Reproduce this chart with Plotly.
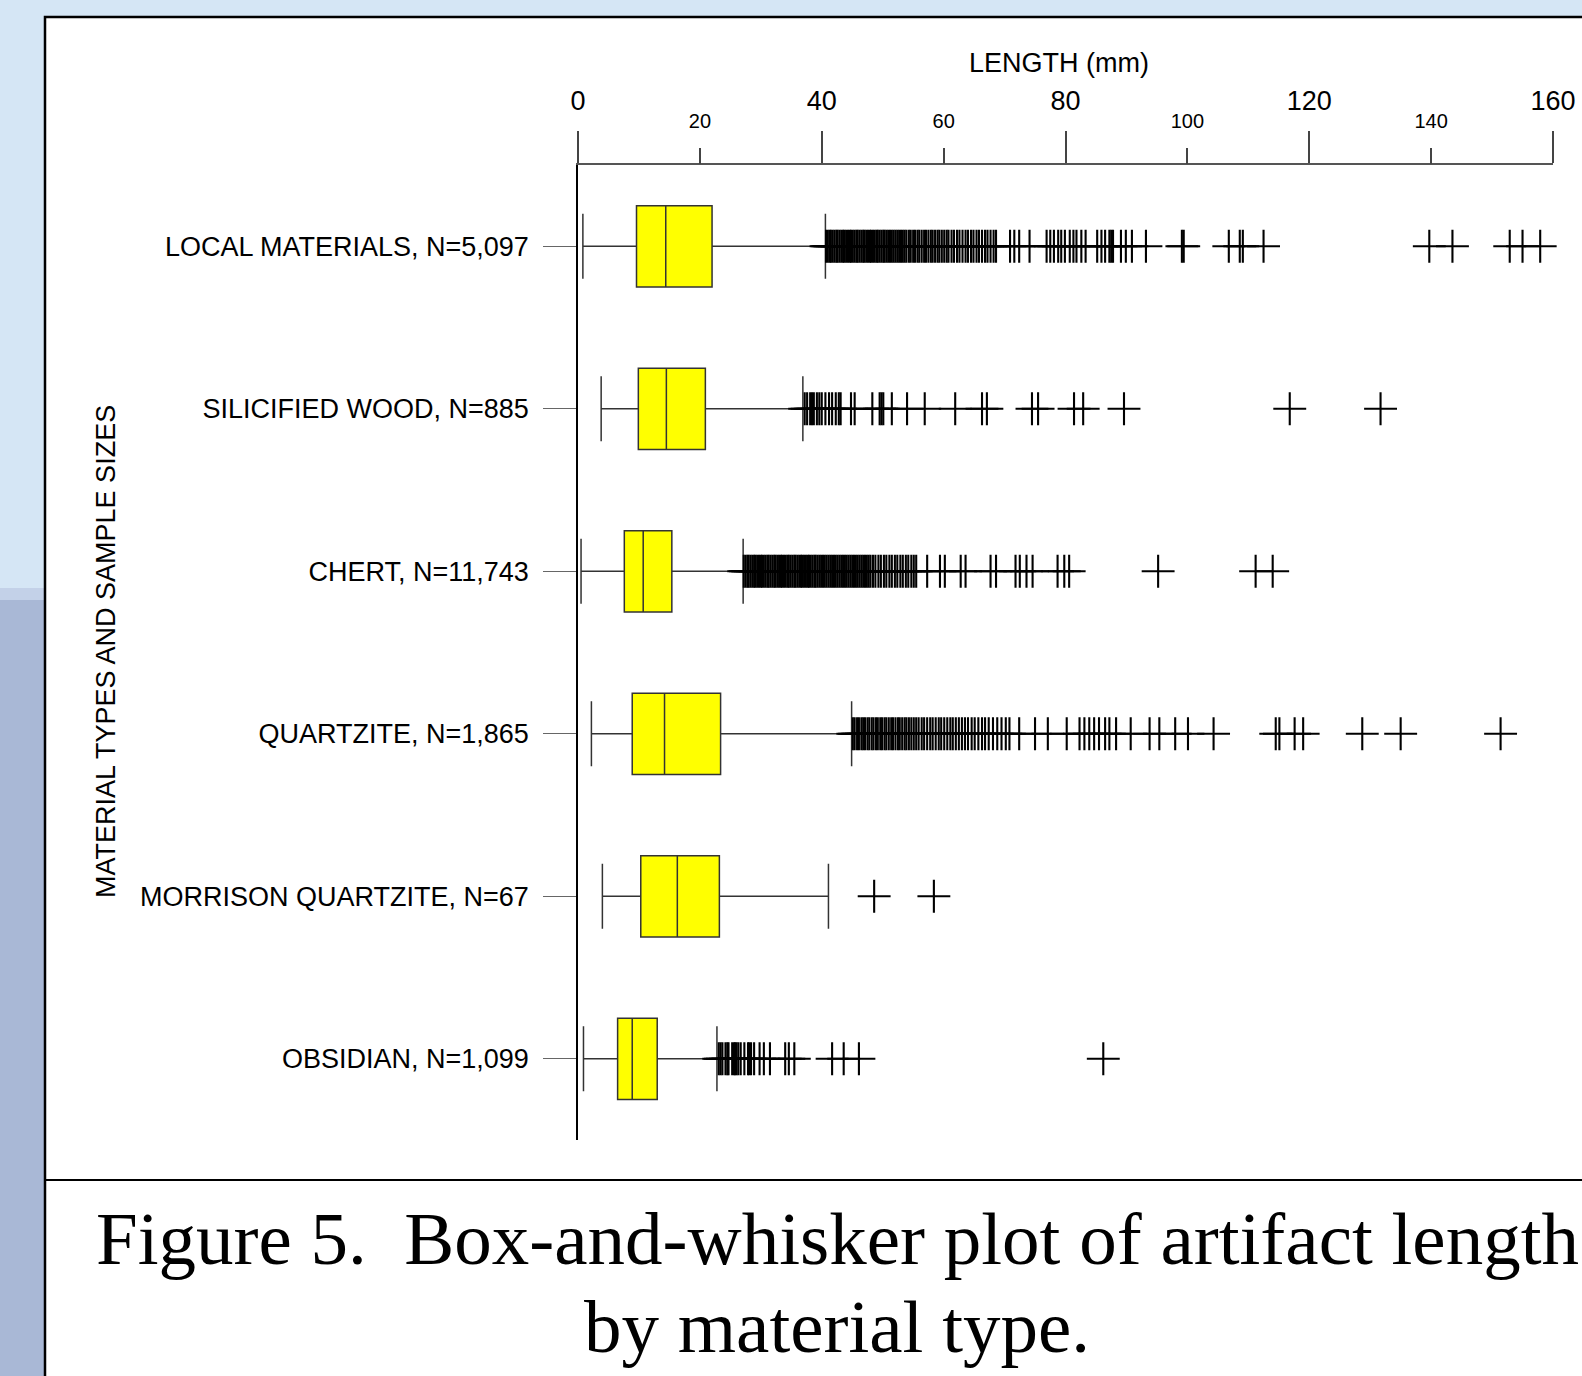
import plotly.graph_objects as go

# ---------------- data ----------------
categories = [
    "LOCAL MATERIALS, N=5,097",
    "SILICIFIED WOOD, N=885",
    "CHERT, N=11,743",
    "QUARTZITE, N=1,865",
    "MORRISON QUARTZITE, N=67",
    "OBSIDIAN, N=1,099",
]
whisker_low = [0.8, 3.8, 0.5, 2.2, 4.0, 0.9]
q1 = [9.6, 9.9, 7.6, 8.9, 10.3, 6.5]
median = [14.4, 14.5, 10.7, 14.2, 16.3, 8.9]
q3 = [22.0, 20.9, 15.4, 23.4, 23.2, 13.0]
whisker_high = [40.6, 36.9, 27.1, 44.9, 41.1, 22.8]

outliers_local = [
    40.7, 41.0, 41.3, 41.5, 41.8, 42.1, 42.4, 42.6, 42.9, 43.2, 43.5, 43.7, 44.0,
    44.3, 44.6, 44.8, 45.1, 45.4, 45.7, 45.9, 46.2, 46.5, 46.8, 47.0, 47.3, 47.6,
    47.9, 48.1, 48.4, 48.7, 49.0, 49.2, 49.5, 49.8, 50.1, 50.3, 50.6, 50.9, 51.2,
    51.5, 51.8, 52.1, 52.4, 52.7, 53.0, 53.3, 53.6,
    53.9, 54.3, 54.6, 55.0, 55.3, 55.7, 56.0, 56.4, 56.8, 57.1, 57.5, 57.9, 58.2,
    58.6, 59.0, 59.3, 59.7, 60.1, 60.5, 60.8,
    61.3, 61.7, 62.2, 62.6, 63.1, 63.6, 64.0, 64.5, 64.9, 65.4, 65.8, 66.3, 66.8,
    67.2, 67.7, 68.2, 68.6,
    70.9, 71.6, 72.4, 74.1,
    76.9, 77.5, 78.1, 78.8, 79.3, 79.9, 80.7, 81.3, 81.8, 82.6, 83.3,
    85.2, 85.9, 86.5, 87.2, 87.5, 87.8, 89.1, 89.9, 90.9, 93.2,
    99.1, 99.4, 106.8, 108.6, 109.1, 112.5,
    139.7, 143.5, 152.9, 155.0, 157.9,
]
outliers_silicified = [
    37.2, 37.6, 38.1, 38.4, 38.7, 39.2, 39.6, 40.0, 40.6, 41.2, 41.7, 42.3, 42.8,
    43.1, 44.8, 45.4, 48.3, 49.5, 49.8, 50.1, 51.5, 54.0, 56.9, 61.9, 66.3, 67.1,
    74.5, 75.5, 81.4, 82.9, 89.6, 116.8, 131.7,
]
outliers_chert = [
    27.2, 27.5, 27.8, 28.0, 28.3, 28.6, 28.9, 29.1, 29.4, 29.7, 30.0, 30.2, 30.5,
    30.8, 31.1, 31.3, 31.6, 31.9, 32.2, 32.4, 32.7, 33.0, 33.3, 33.5, 33.8, 34.1,
    34.4, 34.6, 34.9, 35.2, 35.5, 35.7, 36.0, 36.3, 36.6, 36.8, 37.1, 37.4, 37.7,
    37.9, 38.2, 38.5, 38.8, 39.0, 39.3, 39.6,
    39.9, 40.2, 40.5, 40.8, 41.1, 41.4, 41.7, 42.0, 42.3, 42.6, 42.9, 43.2, 43.5,
    43.8, 44.1, 44.4, 44.7, 45.0, 45.3, 45.6, 45.9, 46.2, 46.5, 46.8, 47.1, 47.4,
    47.7, 48.0,
    48.4, 48.8, 49.3, 49.7, 50.2, 50.6, 51.1, 51.5, 52.0, 52.4, 52.9, 53.3, 53.8,
    54.2, 54.7, 55.1, 55.5,
    57.3, 59.4, 60.2, 62.8, 63.6, 67.7, 68.6, 71.8, 72.5, 73.6, 74.6, 78.7, 79.8,
    80.6, 95.2, 111.2, 114.0,
]
outliers_quartzite = [
    45.1, 45.4, 45.8, 46.1, 46.5, 46.8, 47.1, 47.5, 47.8, 48.2, 48.5, 48.9, 49.2,
    49.6, 49.9, 50.3, 50.6, 51.0, 51.4, 51.7, 52.1, 52.5, 52.8, 53.2, 53.6, 53.9,
    54.3, 54.7, 55.1, 55.5,
    55.9, 56.4, 56.8, 57.3, 57.8, 58.2, 58.7, 59.2, 59.6, 60.1, 60.6, 61.1, 61.5,
    62.0, 62.5, 63.0, 63.5, 64.0, 64.6, 65.1, 65.7, 66.3, 66.8, 67.4, 68.1, 68.8,
    69.5, 70.2, 70.8,
    72.4, 75.0, 77.1, 80.2, 82.3, 83.1, 83.9, 84.7, 85.5, 86.5, 87.2, 88.3, 90.7,
    93.8, 95.4, 98.0, 100.1, 104.3, 114.5, 115.1, 117.6, 119.0, 128.7, 135.0, 151.4,
]
outliers_morrison = [48.6, 58.4]
outliers_obsidian = [
    23.1, 23.4, 23.7, 24.2, 24.5, 24.7, 25.3, 25.6, 25.8, 26.0, 26.3, 26.7, 27.3,
    27.9, 28.1, 28.4, 28.9, 29.8, 30.5, 31.5, 34.0, 34.6, 35.5, 41.7, 43.6, 46.1,
    86.2,
]
outlier_lists = [outliers_local, outliers_silicified, outliers_chert,
                 outliers_quartzite, outliers_morrison, outliers_obsidian]

major_ticks = [0, 40, 80, 120, 160]
minor_ticks = [20, 60, 100, 140]
x_range = [0, 160]
x_title = "LENGTH (mm)"
y_title = "MATERIAL TYPES AND SAMPLE SIZES"
caption_1 = "Figure 5.\u00a0 Box-and-whisker plot of artifact length"
caption_2 = "by material type."

# ---------------- geometry helpers (pixels -> paper) ----------------
W, H = 1582, 1376
L, R, T, B = 578, 1553, 165, 1140
PW, PH = R - L, B - T


def fx(px):
    return (px - L) / PW


def fy(py):
    return (B - py) / PH


SANS = "Liberation Sans, Arial, sans-serif"
SERIF = "Liberation Serif, Times New Roman, serif"

pos = list(range(len(categories)))

fig = go.Figure()

fig.add_trace(go.Box(
    y=pos, q1=q1, median=median, q3=q3,
    lowerfence=whisker_low, upperfence=whisker_high,
    orientation="h", boxpoints=False,
    fillcolor="#ffff00", line=dict(color="#333333", width=1.5),
    width=0.5, whiskerwidth=0.8, showlegend=False, hoverinfo="skip",
))

ox, oy = [], []
for i, lst in enumerate(outlier_lists):
    ox.extend(lst)
    oy.extend([i] * len(lst))

# outliers drawn on the overlaying top axis (same range as the main x axis)
fig.add_trace(go.Scatter(
    x=ox, y=oy, mode="markers", xaxis="x2", yaxis="y",
    marker=dict(symbol="cross-thin", size=23.5, color="black",
                line=dict(color="black", width=2.1)),
    showlegend=False, hoverinfo="skip", cliponaxis=False,
))

shapes = [
    dict(type="rect", xref="paper", yref="paper", x0=fx(0), x1=fx(45),
         y0=fy(1376), y1=fy(600), fillcolor="#a9b8d6", line_width=0, layer="below"),
    dict(type="rect", xref="paper", yref="paper", x0=fx(0), x1=fx(45),
         y0=fy(600), y1=fy(588), fillcolor="#c3d1e8", line_width=0, layer="below"),
    dict(type="rect", xref="paper", yref="paper", x0=fx(45), x1=fx(1700),
         y0=fy(1500), y1=fy(17), fillcolor="white",
         line=dict(color="black", width=2.5), layer="below"),
    dict(type="line", xref="paper", yref="paper", x0=fx(45), x1=fx(1700),
         y0=fy(1180), y1=fy(1180), line=dict(color="black", width=2), layer="below"),
]

annotations = [
    dict(text=x_title, xref="paper", yref="paper", x=fx(1059), y=fy(63),
         xanchor="center", yanchor="middle", showarrow=False,
         font=dict(family=SANS, size=27, color="black")),
    dict(text=y_title, xref="paper", yref="paper", x=fx(106), y=fy(652),
         xanchor="center", yanchor="middle", showarrow=False, textangle=-90,
         font=dict(family=SANS, size=27, color="black")),
    dict(text=caption_1, xref="paper", yref="paper", x=fx(837), y=fy(1238),
         xanchor="center", yanchor="middle", showarrow=False,
         font=dict(family=SERIF, size=75, color="black")),
    dict(text=caption_2, xref="paper", yref="paper", x=fx(837), y=fy(1326),
         xanchor="center", yanchor="middle", showarrow=False,
         font=dict(family=SERIF, size=75, color="black")),
]

fig.update_layout(
    width=W, height=H, autosize=False,
    margin=dict(l=L, r=W - R, t=T, b=H - B, pad=0, autoexpand=False),
    paper_bgcolor="#d5e6f5", plot_bgcolor="white",
    shapes=shapes, annotations=annotations,
    xaxis=dict(
        range=x_range, side="top", tickmode="array", tickvals=major_ticks,
        ticks="outside", ticklen=32, tickwidth=1.5, tickcolor="#444444",
        showline=True, linecolor="#555555", linewidth=2, automargin=False,
        showgrid=False, zeroline=False, ticklabelstandoff=10,
        tickfont=dict(family=SANS, size=27, color="black"),
    ),
    xaxis2=dict(
        range=x_range, side="top", overlaying="x", anchor="y",
        tickmode="array", tickvals=minor_ticks, automargin=False,
        ticks="outside", ticklen=16, tickwidth=1.5, tickcolor="#444444",
        showline=False, showgrid=False, zeroline=False, ticklabelstandoff=12,
        tickfont=dict(family=SANS, size=20, color="black"),
    ),
    yaxis=dict(
        range=[5.5, -0.5], tickmode="array", tickvals=pos, ticktext=categories,
        ticks="outside", ticklen=33, tickwidth=1.2, tickcolor="#666666",
        showline=True, linecolor="black", linewidth=1.5, automargin=False,
        showgrid=False, zeroline=False, ticklabelstandoff=9,
        tickfont=dict(family=SANS, size=27, color="black"),
    ),
)

fig.write_html("out.html")
